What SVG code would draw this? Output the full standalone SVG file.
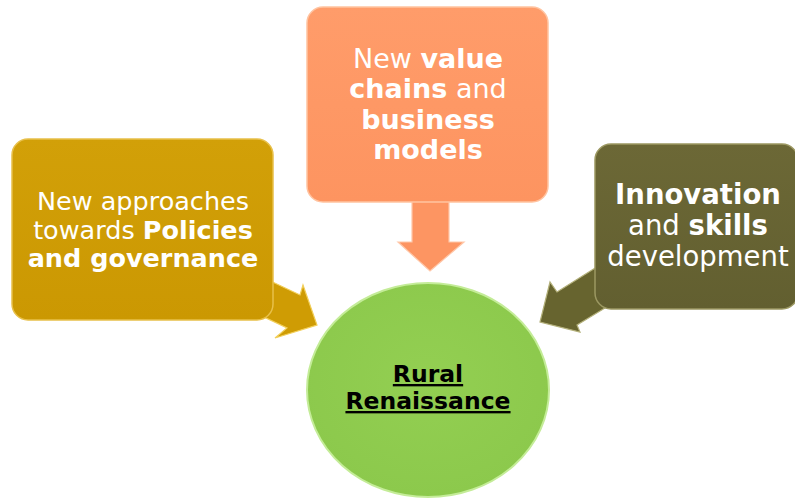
<svg xmlns="http://www.w3.org/2000/svg" width="795" height="499" viewBox="0 0 795 499">
<style>
.t{font-family:"DejaVu Sans","Verdana",sans-serif;fill:#ffffff;text-anchor:middle}
.b{font-weight:bold}
.c{font-family:"DejaVu Sans","Verdana",sans-serif;fill:#000000;font-weight:bold;text-anchor:middle;font-size:23.5px;text-decoration:underline}
</style>
<defs>
<linearGradient id="gGold" x1="0" y1="0" x2="0" y2="1"><stop offset="0" stop-color="#d2a008"/><stop offset="1" stop-color="#cb9802"/></linearGradient>
<linearGradient id="gOrange" x1="0" y1="0" x2="0" y2="1"><stop offset="0" stop-color="#ff9c6a"/><stop offset="1" stop-color="#fd9460"/></linearGradient>
<linearGradient id="gOlive" x1="0" y1="0" x2="0" y2="1"><stop offset="0" stop-color="#6c6836"/><stop offset="1" stop-color="#625f30"/></linearGradient>
<radialGradient id="gGreen" cx="0.5" cy="0.45" r="0.55"><stop offset="0" stop-color="#93cf52"/><stop offset="1" stop-color="#8cc94c"/></radialGradient>
</defs>
<rect width="795" height="499" fill="#ffffff"/>
<g id="connectors">
<polygon points="262,277 300,295 303,285 317,325 275,338 287,328 262,316" fill="#cf9c04" stroke="#f2cf5a" stroke-width="1.2"/>
<polygon points="412,195 449,195 449,242 464,242 430,271 398,242 412,242" fill="#fd9562" stroke="#ffc7a8" stroke-width="1.2"/>
<polygon points="600,265 557,292 550,282 540,322 580,332 577,325 605,308" fill="#67642f" stroke="#b3b07a" stroke-width="1.2"/>
</g>
<g id="node-policies">
<rect x="12" y="139" width="261" height="181" rx="16" fill="url(#gGold)" stroke="#e8c04a" stroke-width="1.5"/>
<text class="t" font-size="25.5" x="143" y="210">New approaches</text>
<text class="t" font-size="25.5" x="143" y="238.5">towards <tspan class="b">Policies</tspan></text>
<text class="t b" font-size="25.5" x="143" y="267">and governance</text>
</g>
<g id="node-value">
<rect x="307" y="7" width="241" height="195" rx="16" fill="url(#gOrange)" stroke="#ffc3a0" stroke-width="1.5"/>
<text class="t" font-size="27" x="428" y="68">New <tspan class="b">value</tspan></text>
<text class="t" font-size="27" x="428" y="98.3"><tspan class="b">chains</tspan> and</text>
<text class="t b" font-size="27" x="428" y="128.6">business</text>
<text class="t b" font-size="27" x="428" y="159">models</text>
</g>
<g id="node-innovation">
<rect x="595" y="144" width="203" height="165" rx="16" fill="url(#gOlive)" stroke="#9c9862" stroke-width="1.5"/>
<text class="t b" font-size="27.5" x="698" y="203.5">Innovation</text>
<text class="t" font-size="27.5" x="698" y="235">and <tspan class="b">skills</tspan></text>
<text class="t" font-size="27.5" x="698" y="266">development</text>
</g>
<g id="node-rural">
<ellipse cx="428" cy="390" rx="121" ry="107" fill="url(#gGreen)" stroke="#c4ec98" stroke-width="2"/>
<text class="c" x="428" y="382">Rural</text>
<text class="c" x="428" y="409">Renaissance</text>
</g>
</svg>
